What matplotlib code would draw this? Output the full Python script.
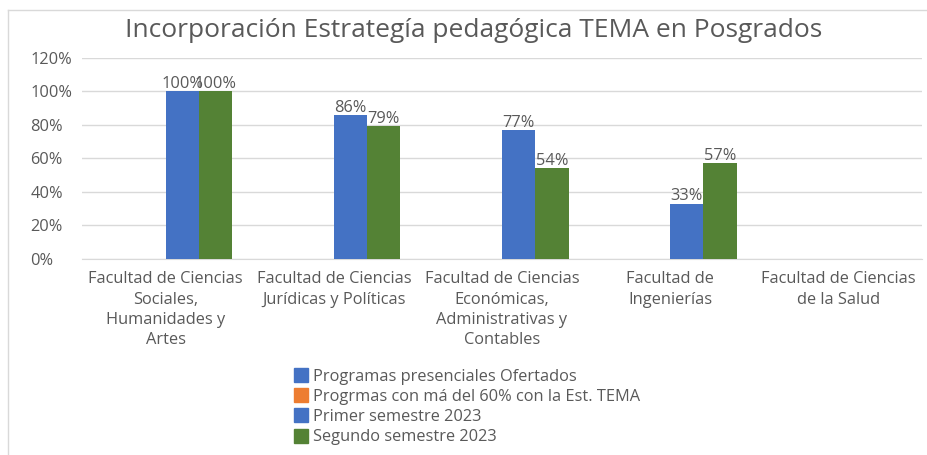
import numpy as np
import matplotlib
matplotlib.use("Agg")
import matplotlib.pyplot as plt
from matplotlib.lines import Line2D

plt.rcParams['font.family'] = ['Open Sans', 'DejaVu Sans']

# data
categorias = ["Facultad de Ciencias\nSociales,\nHumanidades y\nArtes",
              "Facultad de Ciencias\nJurídicas y Políticas",
              "Facultad de Ciencias\nEconómicas,\nAdministrativas y\nContables",
              "Facultad de\nIngenierías",
              "Facultad de Ciencias\nde la Salud"]
series = ["Programas presenciales Ofertados",
          "Progrmas con má del 60% con la Est. TEMA",
          "Primer semestre 2023",
          "Segundo semestre 2023"]
ofertados = [np.nan, np.nan, np.nan, np.nan, np.nan]
mas_60 = [np.nan, np.nan, np.nan, np.nan, np.nan]
primer_sem = [1.00, 0.86, 0.77, 0.33, np.nan]
segundo_sem = [1.00, 0.79, 0.54, 0.57, np.nan]
colores = ["#4472C4", "#ED7D31", "#4472C4", "#548235"]

gris = "#595959"
fs = 11.8

fig = plt.figure(figsize=(9.28, 4.55), dpi=100)
ax = fig.add_axes([0.088, 0.431, 0.906, 0.442])

x = np.arange(len(categorias))
w = 0.198
valores = [ofertados, mas_60, primer_sem, segundo_sem]
for k, (vals, col) in enumerate(zip(valores, colores)):
    pos = x + (k - 1.5) * w
    bars = ax.bar(pos, vals, width=w, color=col, zorder=3)
    if k >= 2:
        for b, v in zip(bars, vals):
            if not np.isnan(v):
                ax.text(b.get_x() + b.get_width() / 2, v - 0.005, f"{v:.0%}",
                        ha='center', va='bottom', fontsize=fs, color=gris, zorder=4)

ax.set_xlim(-0.5, len(categorias) - 0.5)
ax.set_ylim(0, 1.2)
ax.set_yticks(np.arange(0, 1.21, 0.2))
ax.set_yticklabels([f"{int(round(t*100))}%" for t in np.arange(0, 1.21, 0.2)])
ax.grid(axis='y', color='#d9d9d9', linewidth=1, zorder=0)
ax.set_xticks(x)
ax.set_xticklabels(categorias, fontsize=fs, color=gris, linespacing=1.36)
for s in ['top', 'right', 'left']:
    ax.spines[s].set_visible(False)
ax.spines['bottom'].set_color('#d9d9d9')
ax.tick_params(axis='both', length=0, colors=gris, labelsize=fs)
ax.tick_params(axis='x', pad=9)
ax.tick_params(axis='y', pad=37)
for lbl in ax.get_yticklabels():
    lbl.set_horizontalalignment('left')

fig.text(0.51, 0.934, "Incorporación Estrategía pedagógica TEMA en Posgrados",
         ha='center', va='center', fontsize=19, color=gris)

handles = [Line2D([], [], marker='s', linestyle='none', markersize=10,
                  markerfacecolor=c, markeredgecolor=c) for c in colores]
fig.legend(handles, series, loc='upper left', bbox_to_anchor=(0.308, 0.207),
           frameon=False, fontsize=fs, labelcolor=gris, handlelength=0.8,
           handletextpad=0.35, labelspacing=0.25, borderpad=0)

# light frame of the chart area
fig.add_artist(Line2D([8/928, 8/928], [0, 1 - 10/455], transform=fig.transFigure,
                      color='#d9d9d9', linewidth=1))
fig.add_artist(Line2D([8/928, 1], [1 - 10/455, 1 - 10/455], transform=fig.transFigure,
                      color='#d9d9d9', linewidth=1))

fig.savefig("out.png", dpi=100)
